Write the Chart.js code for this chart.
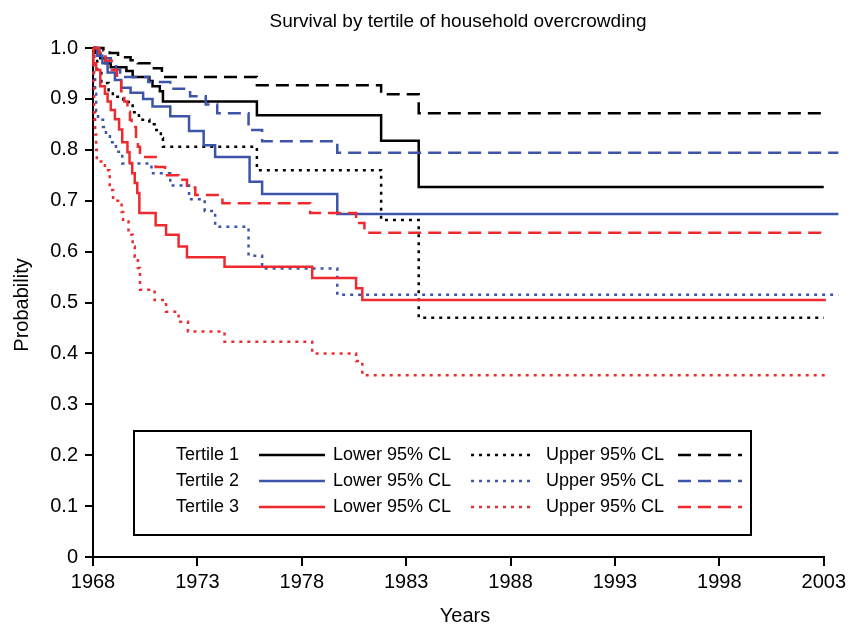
<!DOCTYPE html>
<html>
<head>
<meta charset="utf-8">
<script src="https://cdn.jsdelivr.net/npm/chart.js@4.4.1/dist/chart.umd.min.js"></script>
<style>
  html, body { margin: 0; padding: 0; background: #fff; }
  #wrap { width: 850px; height: 625px; }
</style>
</head>
<body>
<div id="wrap"><canvas id="survChart" width="850" height="625"></canvas></div>
<script>
// --- Data: Kaplan-Meier steps, [year, probability] at each drop ---
const xTicks = [1968, 1973, 1978, 1983, 1988, 1993, 1998, 2003];
const yTicks = [0, 0.1, 0.2, 0.3, 0.4, 0.5, 0.6, 0.7, 0.8, 0.9, 1.0];

const tertileNames = ['Tertile 1', 'Tertile 2', 'Tertile 3'];
const lowerLabel = 'Lower 95% CL';
const upperLabel = 'Upper 95% CL';

// Tertile 1
const t1Est = [[1968.0,1.0],[1968.1,0.99],[1968.35,0.98],[1968.6,0.97],[1968.85,0.962],[1969.6,0.955],[1969.9,0.943],
  [1970.7,0.935],[1970.85,0.925],[1971.2,0.915],[1971.35,0.895],[1975.85,0.868],[1981.8,0.818],[1983.6,0.727],[2003.0,0.727]];
const t1Lower = [[1968.0,1.0],[1968.05,0.98],[1968.2,0.951],[1968.4,0.931],[1968.75,0.917],[1968.95,0.904],[1969.45,0.894],
  [1969.9,0.874],[1970.2,0.859],[1970.7,0.85],[1970.95,0.839],[1971.25,0.823],[1971.35,0.806],[1975.85,0.76],[1981.8,0.662],
  [1983.6,0.47],[2003.0,0.47]];
const t1Upper = [[1968.0,1.0],[1968.5,0.995],[1968.8,0.99],[1969.2,0.982],[1969.8,0.976],[1970.15,0.97],[1970.85,0.96],
  [1971.3,0.943],[1975.85,0.927],[1981.8,0.909],[1983.6,0.872],[2003.0,0.872]];

// Tertile 2
const t2Est = [[1968.0,1.0],[1968.2,0.985],[1968.45,0.97],[1968.7,0.952],[1969.05,0.937],[1969.35,0.922],[1969.8,0.912],
  [1970.4,0.9],[1970.85,0.885],[1971.7,0.866],[1972.6,0.837],[1973.3,0.809],[1973.85,0.786],[1975.5,0.737],[1976.1,0.713],
  [1979.7,0.674],[2003.7,0.674]];
const t2Lower = [[1968.0,1.0],[1968.05,0.95],[1968.1,0.91],[1968.15,0.875],[1968.24,0.859],[1968.48,0.845],[1968.62,0.83],
  [1968.81,0.815],[1969.1,0.796],[1969.4,0.773],[1970.8,0.754],[1971.7,0.73],[1972.6,0.703],[1973.35,0.68],[1973.85,0.649],
  [1975.45,0.592],[1976.1,0.567],[1979.7,0.515],[2003.7,0.515]];
const t2Upper = [[1968.0,1.0],[1968.3,0.99],[1968.6,0.98],[1968.85,0.97],[1969.1,0.958],[1969.3,0.943],[1970.65,0.933],
  [1971.7,0.92],[1972.65,0.905],[1973.4,0.889],[1973.95,0.872],[1975.45,0.839],[1976.1,0.817],[1979.7,0.794],[2003.7,0.794]];

// Tertile 3
const t3Est = [[1968.0,1.0],[1968.02,0.97],[1968.15,0.957],[1968.35,0.925],[1968.57,0.91],[1968.7,0.895],[1968.85,0.878],
  [1969.05,0.86],[1969.25,0.84],[1969.4,0.815],[1969.65,0.795],[1969.75,0.774],[1969.88,0.754],[1970.0,0.735],[1970.12,0.715],
  [1970.22,0.676],[1971.0,0.652],[1971.5,0.633],[1972.1,0.61],[1972.5,0.589],[1974.3,0.57],[1978.5,0.548],[1980.6,0.528],
  [1980.9,0.505],[2003.1,0.505]];
const t3Lower = [[1968.0,1.0],[1968.02,0.93],[1968.05,0.86],[1968.1,0.83],[1968.15,0.80],[1968.18,0.777],[1968.57,0.76],
  [1968.8,0.721],[1968.96,0.70],[1969.37,0.678],[1969.44,0.659],[1969.7,0.633],[1969.9,0.61],[1970.0,0.59],[1970.15,0.568],
  [1970.25,0.525],[1970.95,0.505],[1971.5,0.482],[1972.1,0.462],[1972.55,0.443],[1974.3,0.423],[1978.5,0.40],[1980.6,0.385],
  [1980.9,0.357],[2003.1,0.357]];
const t3Upper = [[1968.0,1.0],[1968.3,0.99],[1968.6,0.975],[1968.9,0.957],[1969.15,0.94],[1969.35,0.915],[1969.5,0.895],
  [1969.65,0.875],[1969.77,0.859],[1969.85,0.845],[1970.06,0.823],[1970.15,0.806],[1970.25,0.786],[1971.0,0.766],[1971.45,0.75],
  [1972.1,0.741],[1972.5,0.726],[1972.9,0.711],[1974.2,0.695],[1978.4,0.676],[1980.6,0.656],[1981.0,0.637],[2003.1,0.637]];

// --- styles ---
const colBlack = '#000000';
const colBlue = '#3d55a8';
const colRed = '#ee2a2f';
const tertileColors = [colBlack, colBlue, colRed];
const dashSolid = [];
const dashDotted = [3, 5];
const dashDashed = [13, 7];
const FONT = '"Liberation Sans", Arial, Helvetica, sans-serif';

function mkSet(label, pts, color, dash, order) {
    return {
        label: label,
        data: pts.map(p => ({ x: p[0], y: p[1] })),
        borderColor: color,
        borderWidth: 2.5,
        borderDash: dash,
        borderCapStyle: 'butt',
        borderJoinStyle: 'miter',
        stepped: 'before',
        pointRadius: 0,
        fill: false,
        clip: false,
        order: order
    };
}

// Titles + boxed legend drawn by hand (the built-in legend can't do this layout)
const decorPlugin = {
    id: 'decor',
    afterDraw(chart) {
        const ctx = chart.ctx;
        ctx.save();
        ctx.fillStyle = '#000';
        ctx.textBaseline = 'middle';
        ctx.textAlign = 'center';
        ctx.font = '19px ' + FONT;
        ctx.fillText('Survival by tertile of household overcrowding', 458, 22);
        ctx.font = '20px ' + FONT;
        ctx.fillText('Years', 465, 616);
        ctx.save();
        ctx.translate(22, 305);
        ctx.rotate(-Math.PI / 2);
        ctx.fillText('Probability', 0, 0);
        ctx.restore();

        // legend box
        ctx.lineWidth = 2;
        ctx.strokeStyle = '#000';
        ctx.strokeRect(134, 431, 617, 104);
        const rowY = [455, 481, 507];
        ctx.font = '18px ' + FONT;
        ctx.textAlign = 'left';
        ctx.lineWidth = 2.5;
        tertileNames.forEach((name, i) => {
            const y = rowY[i];
            ctx.fillStyle = '#000';
            ctx.fillText(name, 176, y);
            ctx.fillText(lowerLabel, 333, y);
            ctx.fillText(upperLabel, 546, y);
            ctx.strokeStyle = tertileColors[i];
            [[259, 325, dashSolid], [471, 535, dashDotted], [678, 742, dashDashed]].forEach(s => {
                ctx.setLineDash(s[2]);
                ctx.beginPath();
                ctx.moveTo(s[0], y);
                ctx.lineTo(s[1], y);
                ctx.stroke();
            });
        });
        ctx.restore();
    }
};

document.addEventListener('DOMContentLoaded', function() {
    const ctx = document.getElementById('survChart').getContext('2d');
    new Chart(ctx, {
        type: 'line',
        data: {
            datasets: [
                mkSet('Tertile 1', t1Est, colBlack, dashSolid, 3),
                mkSet('Tertile 1 lower', t1Lower, colBlack, dashDotted, 3),
                mkSet('Tertile 1 upper', t1Upper, colBlack, dashDashed, 3),
                mkSet('Tertile 2', t2Est, colBlue, dashSolid, 2),
                mkSet('Tertile 2 lower', t2Lower, colBlue, dashDotted, 2),
                mkSet('Tertile 2 upper', t2Upper, colBlue, dashDashed, 2),
                mkSet('Tertile 3', t3Est, colRed, dashSolid, 1),
                mkSet('Tertile 3 lower', t3Lower, colRed, dashDotted, 1),
                mkSet('Tertile 3 upper', t3Upper, colRed, dashDashed, 1)
            ]
        },
        options: {
            responsive: false,
            animation: false,
            layout: { padding: { left: 0, right: 26, top: 48, bottom: 0 } },
            scales: {
                x: {
                    type: 'linear',
                    min: 1968,
                    max: 2003,
                    afterBuildTicks: s => { s.ticks = xTicks.map(v => ({ value: v })); },
                    afterFit: s => { s.height = 68; },
                    grid: { drawOnChartArea: false, drawTicks: true, tickLength: 9, lineWidth: 2, tickColor: '#000' },
                    border: { display: true, color: '#000', width: 2 },
                    ticks: {
                        color: '#000',
                        padding: 4,
                        maxRotation: 0,
                        font: { family: FONT, size: 20 },
                        callback: v => String(v)
                    }
                },
                y: {
                    type: 'linear',
                    min: 0,
                    max: 1,
                    afterBuildTicks: s => { s.ticks = yTicks.map(v => ({ value: v })); },
                    afterFit: s => { s.width = 93; },
                    grid: { drawOnChartArea: false, drawTicks: true, tickLength: 8, lineWidth: 2, tickColor: '#000' },
                    border: { display: true, color: '#000', width: 2 },
                    ticks: {
                        color: '#000',
                        padding: 7,
                        font: { family: FONT, size: 20 },
                        callback: v => (v === 0 ? '0' : v.toFixed(1))
                    }
                }
            },
            plugins: {
                legend: { display: false },
                title: { display: false },
                tooltip: { enabled: false }
            }
        },
        plugins: [decorPlugin]
    });
});
</script>
</body>
</html>
